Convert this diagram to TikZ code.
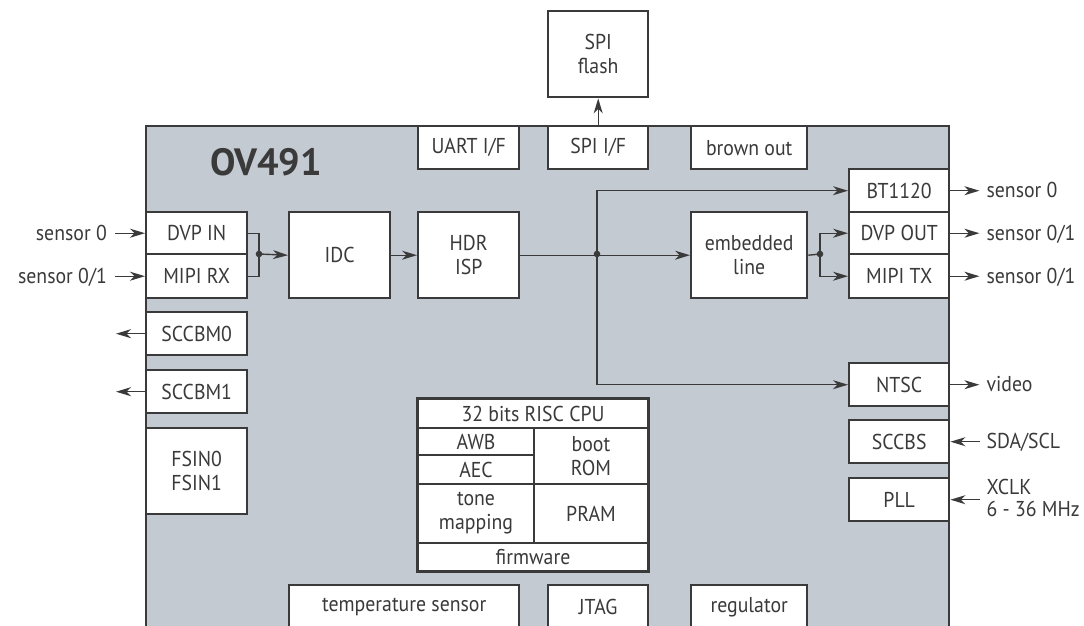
\documentclass[tikz,border=0pt]{standalone}
\usepackage{fontspec}
\setmainfont{PT Sans}[FakeStretch=0.92]
\newfontfamily\titlefont{PT Sans}
\usetikzlibrary{arrows.meta}
\definecolor{chipfill}{RGB}{196,202,210}
\definecolor{ink}{RGB}{58,58,58}
\begin{document}
\begin{tikzpicture}[x=1pt,y=-1pt,
  box/.style={draw=ink, fill=white, line width=2.4pt, inner sep=0pt, align=center, text=ink,
    font=\fontsize{21.5}{24}\selectfont, anchor=north west},
  cell/.style={box, line width=2pt},
  conn/.style={draw=ink, line width=1.4pt},
  arr/.style={conn, -{Stealth[length=15pt,width=9pt,inset=4.5pt]}},
  lbl/.style={inner sep=0pt, text=ink, font=\fontsize{21.5}{22}\selectfont, text height=14pt, text depth=0pt},
  lbl2/.style={inner sep=0pt, text=ink, font=\fontsize{21.5}{22}\selectfont, align=left},
  jdot/.style={fill=ink}
]
\useasboundingbox (0,0) rectangle (1084,625);
\clip (0,0) rectangle (1084,625);
% chip
\node[draw=ink, fill=chipfill, line width=2.4pt, anchor=north west, minimum width=803pt, minimum height=540pt, inner sep=0pt] (chip) at (145,125) {};
\node[text=ink, font=\titlefont\fontsize{38}{40}\selectfont\bfseries] (title) at (266,162) {OV491};
% top
\node[box, minimum width=100pt, minimum height=86pt] (spiflash) at (547,10) {SPI\\flash};
\node[box, minimum width=101pt, minimum height=43pt] (uart) at (417,125) {UART I/F};
\node[box, minimum width=100pt, minimum height=43pt] (spiif) at (547,125) {SPI I/F};
\node[box, minimum width=116pt, minimum height=43pt] (brown) at (690,125) {brown out};
% right column
\node[box, minimum width=100pt, minimum height=43pt] (bt) at (848,168) {BT1120};
\node[box, minimum width=100pt, minimum height=42pt] (dvpout) at (848,211) {DVP OUT};
\node[box, minimum width=100pt, minimum height=44pt] (mipitx) at (848,253) {MIPI TX};
\node[box, minimum width=100pt, minimum height=43pt] (ntsc) at (848,362) {NTSC};
\node[box, minimum width=100pt, minimum height=43pt] (sccbs) at (848,419) {SCCBS};
\node[box, minimum width=100pt, minimum height=43pt] (pll) at (848,477) {PLL};
% left column
\node[box, minimum width=101pt, minimum height=42pt] (dvpin) at (145,211) {DVP IN};
\node[box, minimum width=101pt, minimum height=44pt] (mipirx) at (145,253) {MIPI RX};
\node[box, minimum width=101pt, minimum height=43pt] (sccbm0) at (145,311) {SCCBM0};
\node[box, minimum width=101pt, minimum height=43pt] (sccbm1) at (145,369) {SCCBM1};
\node[box, minimum width=101pt, minimum height=86pt] (fsin) at (145,427) {FSIN0\\FSIN1};
% pipeline
\node[box, minimum width=101pt, minimum height=86pt] (idc) at (288,211) {IDC};
\node[box, minimum width=101pt, minimum height=86pt] (hdr) at (417,211) {HDR\\ISP};
\node[box, minimum width=116pt, minimum height=86pt] (emb) at (690,211) {embedded\\line};
% cpu block
\node[cell, minimum width=230pt, minimum height=29pt] (cpu) at (417,398) {32 bits RISC CPU};
\node[cell, minimum width=116pt, minimum height=27pt] (awb) at (417,427) {AWB};
\node[cell, minimum width=116pt, minimum height=29pt] (aec) at (417,454) {AEC};
\node[cell, minimum width=114pt, minimum height=56pt] (boot) at (533,427) {boot\\ROM};
\node[cell, minimum width=116pt, minimum height=59pt] (tone) at (417,483) {tone\\mapping};
\node[cell, minimum width=114pt, minimum height=59pt] (pram) at (533,483) {PRAM};
\node[cell, minimum width=230pt, minimum height=28pt] (firm) at (417,542) {firmware};
\draw[draw=ink, line width=2.4pt] (cpu.north west) rectangle (firm.south east);
% bottom
\node[box, minimum width=230pt, minimum height=44pt] (temp) at (288,584) {temperature sensor};
\node[box, minimum width=100pt, minimum height=44pt] (jtag) at (547,584) {JTAG};
\node[box, minimum width=116pt, minimum height=44pt] (reg) at (690,584) {regulator};
% left inputs / outputs
\draw[arr] ([xshift=-30pt]dvpin.west) -- (dvpin.west);
\node[lbl, anchor=east] (ls0) at ([xshift=-38pt]dvpin.west) {sensor 0};
\draw[arr] ([xshift=-30pt]mipirx.west) -- (mipirx.west);
\node[lbl, anchor=east] (ls01) at ([xshift=-38pt]mipirx.west) {sensor 0/1};
\draw[arr] (sccbm0.west) -- ([xshift=-29pt]sccbm0.west);
\draw[arr] (sccbm1.west) -- ([xshift=-29pt]sccbm1.west);
% junction 1
\coordinate (j1) at (259,254);
\draw[conn] (dvpin.east) -| (j1) |- (mipirx.east);
\fill[jdot] (j1) circle (3.3pt);
\draw[arr] (j1) -- (idc.west);
\draw[arr] (idc.east) -- (hdr.west);
% junction 2
\coordinate (j2) at (597,254);
\draw[arr] (hdr.east) -- (emb.west);
\draw[arr] (j2) |- (bt.west);
\draw[arr] (j2) |- (ntsc.west);
\fill[jdot] (j2) circle (3.3pt);
% junction 3
\coordinate (j3) at (820,254);
\draw[conn] (emb.east) -- (j3);
\draw[arr] (j3) |- (dvpout.west);
\draw[arr] (j3) |- (mipitx.west);
\fill[jdot] (j3) circle (3.3pt);
% spi
\draw[arr] (spiif.north) -- (spiflash.south);
% right outputs
\draw[arr] (bt.east) -- ([xshift=29pt]bt.east);
\node[lbl, anchor=west] (rs0) at ([xshift=36pt]bt.east) {sensor 0};
\draw[arr] (dvpout.east) -- ([xshift=29pt]dvpout.east);
\node[lbl, anchor=west] (rs1) at ([xshift=36pt]dvpout.east) {sensor 0/1};
\draw[arr] (mipitx.east) -- ([xshift=29pt]mipitx.east);
\node[lbl, anchor=west] (rs2) at ([xshift=36pt]mipitx.east) {sensor 0/1};
\draw[arr] (ntsc.east) -- ([xshift=29pt]ntsc.east);
\node[lbl, anchor=west] (rv) at ([xshift=36pt]ntsc.east) {video};
\draw[arr] ([xshift=30pt]sccbs.east) -- (sccbs.east);
\node[lbl, anchor=west] (rsda) at ([xshift=36pt]sccbs.east) {SDA/SCL};
\draw[arr] ([xshift=30pt]pll.east) -- (pll.east);
\node[lbl2, anchor=west] (rxclk) at ([xshift=36pt,yshift=2pt]pll.east) {XCLK\\6 - 36 MHz};
\end{tikzpicture}
\end{document}
